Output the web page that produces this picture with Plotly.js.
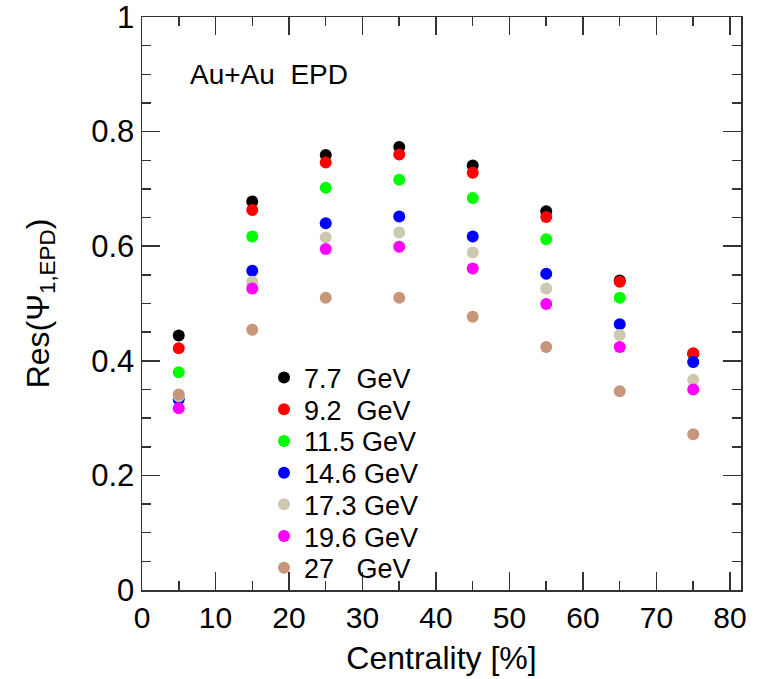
<!DOCTYPE html>
<html>
<head>
<meta charset="utf-8">
<script src="https://cdn.plot.ly/plotly-3.0.1.min.js"></script>
<style>html,body{margin:0;padding:0;background:#fff;}#chart{width:758px;height:679px;}</style>
</head>
<body>
<div id="chart"></div>
<script>
const centrality = [5, 15, 25, 35, 45, 55, 65, 75];
const energies = ["7.7\u00a0\u00a0GeV", "9.2\u00a0\u00a0GeV", "11.5 GeV", "14.6 GeV", "17.3 GeV", "19.6 GeV", "27\u00a0\u00a0\u00a0GeV"];
const colors = ["#000000", "#ff0000", "#00ff00", "#0000ff", "#cdc8b0", "#ff00ff", "#c8967a"];
const res_7p7  = [0.444, 0.678, 0.759, 0.773, 0.741, 0.661, 0.540, 0.412];
const res_9p2  = [0.422, 0.663, 0.746, 0.760, 0.728, 0.651, 0.538, 0.413];
const res_11p5 = [0.380, 0.617, 0.702, 0.716, 0.684, 0.612, 0.510, 0.398];
const res_14p6 = [0.333, 0.557, 0.640, 0.652, 0.617, 0.552, 0.464, 0.398];
const res_17p3 = [0.338, 0.538, 0.615, 0.624, 0.589, 0.526, 0.445, 0.367];
const res_19p6 = [0.317, 0.526, 0.595, 0.599, 0.561, 0.499, 0.424, 0.350];
const res_27   = [0.341, 0.454, 0.510, 0.510, 0.477, 0.424, 0.347, 0.272];
const series = [res_7p7, res_9p2, res_11p5, res_14p6, res_17p3, res_19p6, res_27];

const FONT = 'Liberation Sans, Arial, Helvetica, sans-serif';
const legendNames = ['legend', 'legend2', 'legend3', 'legend4', 'legend5', 'legend6', 'legend7'];

const traces = series.map((ys, i) => ({
  x: centrality, y: ys, type: 'scatter', mode: 'markers', name: energies[i],
  legend: legendNames[i],
  marker: {color: colors[i], size: 12, line: {width: 0}}
}));

const plotTop = 17, plotH = 573;
const layout = {
  width: 758, height: 679,
  margin: {l: 142, r: 17, t: plotTop, b: 89},
  paper_bgcolor: '#fff', plot_bgcolor: '#fff',
  font: {family: FONT, color: '#000'},
  showlegend: true,
  xaxis: {range: [0, 81.5], dtick: 10, tick0: 0, ticks: 'inside', ticklen: 18, tickwidth: 1.5,
          tickcolor: '#333', showline: true, linecolor: '#333', linewidth: 1.5, mirror: 'allticks',
          showgrid: false, zeroline: false, tickfont: {size: 30}, ticklabeloverflow: 'allow',
          minor: {dtick: 5, ticks: 'inside', ticklen: 9, tickwidth: 1.5, tickcolor: '#333', showgrid: false},
          title: {text: 'Centrality [%]', font: {size: 32}, standoff: 14}},
  yaxis: {range: [0, 1], dtick: 0.2, tick0: 0, ticks: 'inside', ticklen: 18, tickwidth: 1.5,
          tickcolor: '#333', showline: true, linecolor: '#333', linewidth: 1.5, mirror: 'allticks',
          showgrid: false, zeroline: false, tickfont: {size: 31}, ticklabeloverflow: 'allow',
          minor: {dtick: 0.05, ticks: 'inside', ticklen: 9, tickwidth: 1.5, tickcolor: '#333', showgrid: false},
          title: {text: 'Res(\u03A8<sub>1,EPD</sub>)', font: {size: 32}, standoff: 32}},
  annotations: [{text: 'Au+Au\u00a0\u00a0EPD', xref: 'paper', yref: 'paper', x: 0.077, y: (590 - 74) / plotH,
                 xanchor: 'left', yanchor: 'middle', showarrow: false, font: {size: 28}}]
};
legendNames.forEach((ln, k) => {
  const yc = 378 + 31.7 * k;
  layout[ln] = {x: (264 - 142) / 599, y: (590 - yc) / plotH, xanchor: 'left', yanchor: 'middle',
                bgcolor: 'rgba(0,0,0,0)', font: {size: 27, family: FONT}, itemsizing: 'constant'};
});
Plotly.newPlot('chart', traces, layout, {displayModeBar: false, staticPlot: true});
</script>
</body>
</html>
